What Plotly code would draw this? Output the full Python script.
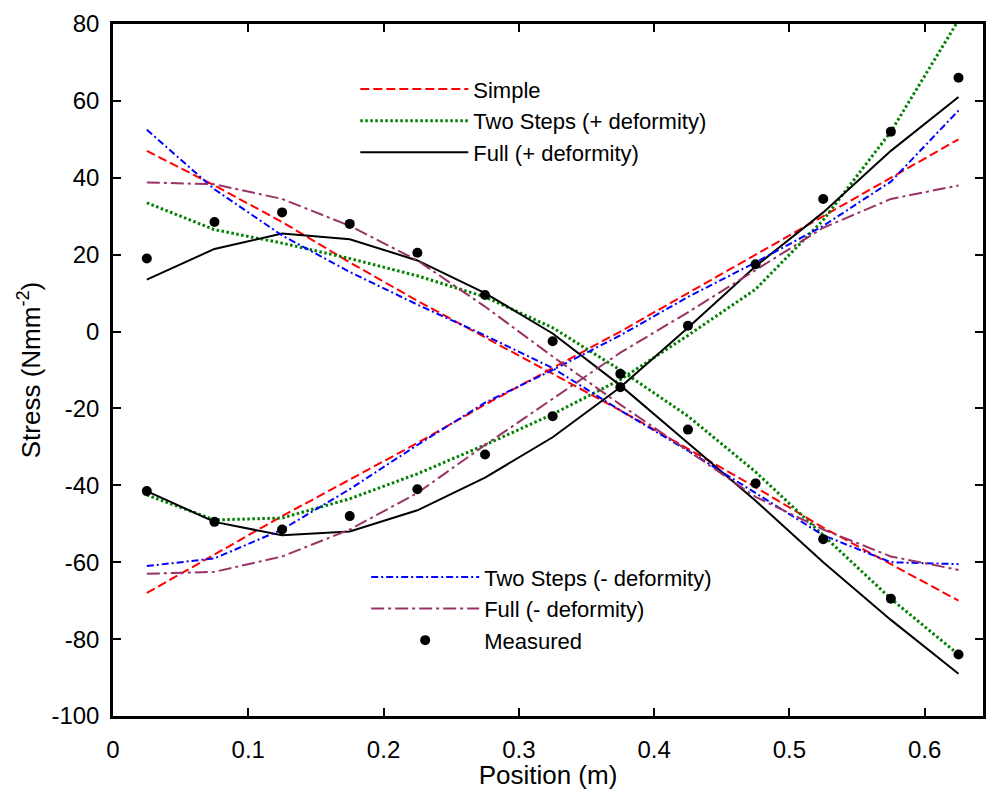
import plotly.graph_objects as go

# ---------------- data ----------------
x_pos = [0.025, 0.075, 0.125, 0.175, 0.225, 0.275, 0.325, 0.375, 0.425, 0.475, 0.525, 0.575, 0.625]

simple_upper = [47, 38, 28.5, 18, 8, -1.5, -11, -20.5, -30.5, -40.5, -51, -60.5, -70]
simple_lower = [-68, -58, -48, -38.5, -29, -19, -9.5, 0, 10, 20, 30, 40, 50]

two_plus_upper = [33.5, 26.5, 23, 19, 14.5, 9, 1, -10, -22, -36.5, -53, -69.5, -84]
two_plus_lower = [-42.5, -49, -48.5, -43.5, -37, -29.5, -21.5, -12.5, -1, 11, 29, 52, 81]

full_plus_upper = [13.5, 21.5, 25.5, 24, 18.5, 10, -0.5, -14, -29, -44, -60, -75, -89]
full_plus_lower = [-41.5, -49.5, -53, -52, -46.5, -38, -27.5, -14.5, 1, 17, 31, 47, 61]

two_minus_upper = [52.5, 37, 25, 15.5, 7, -1, -9.5, -20.5, -31, -42, -53, -60, -60.5]
two_minus_lower = [-61, -59, -51.5, -41, -29.5, -18.5, -10, -1, 9, 18, 27.5, 39, 57.5]

full_minus_upper = [38.8, 38.3, 34.5, 27.5, 18.5, 6.5, -6.5, -19, -31, -43, -51.5, -58.5, -62]
full_minus_lower = [-63, -62.5, -58.5, -51.5, -42, -29.5, -17.5, -5.5, 5, 16, 27, 34.5, 38]

meas_upper = [19, 28.5, 31, 28, 20.5, 9.5, -2.5, -11, -25.5, -39.5, -54, -69.5, -84]
meas_lower = [-41.5, -49.5, -51.5, -48, -41, -32, -22, -14.5, 1.5, 17.5, 34.5, 52, 66]

x_ticks = [0, 0.1, 0.2, 0.3, 0.4, 0.5, 0.6]
x_tick_labels = ["0", "0.1", "0.2", "0.3", "0.4", "0.5", "0.6"]
y_ticks = [-100, -80, -60, -40, -20, 0, 20, 40, 60, 80]
y_tick_labels = ["-100", "-80", "-60", "-40", "-20", "0", "20", "40", "60", "80"]

FONT = "Liberation Sans, Arial, sans-serif"


def joined(a, b):
    xs = list(x_pos) + [None] + list(x_pos)
    ys = list(a) + [None] + list(b)
    return xs, ys


fig = go.Figure()

series = [
    ("Simple", simple_upper, simple_lower, "#FF0000", "9px,4px", 2, "legend"),
    ("Two Steps (+ deformity)", two_plus_upper, two_plus_lower, "#008000", "2.5px,2.5px", 3, "legend"),
    ("Full (+ deformity)", full_plus_upper, full_plus_lower, "#000000", "solid", 2, "legend"),
    ("Two Steps (- deformity)", two_minus_upper, two_minus_lower, "#0000FF", "7px,3px,2px,3px", 2, "legend2"),
    ("Full (- deformity)", full_minus_upper, full_minus_lower, "#993366", "13px,4px,3px,4px", 2, "legend2"),
]

for name, up, lo, col, dash, w, leg in series:
    xs, ys = joined(up, lo)
    fig.add_trace(go.Scatter(
        x=xs, y=ys, mode="lines", name=name, legend=leg,
        line=dict(color=col, dash=dash, width=w), connectgaps=False,
    ))

xs, ys = joined(meas_upper, meas_lower)
fig.add_trace(go.Scatter(
    x=xs, y=ys, mode="markers", name="Measured", legend="legend2",
    marker=dict(color="#000000", size=10, symbol="circle"),
))

axis_common = dict(
    showline=True, linecolor="black", linewidth=2.5, mirror="ticks",
    ticks="inside", ticklen=8, tickwidth=1.5, tickcolor="black",
    showgrid=False, zeroline=False,
    tickfont=dict(family=FONT, size=24, color="black"),
)

fig.update_layout(
    width=988, height=790,
    margin=dict(l=113, r=2, t=24, b=74),
    paper_bgcolor="white", plot_bgcolor="white",
    font=dict(family=FONT, color="black"),
    xaxis=dict(
        range=[0, 0.6431], tickvals=x_ticks, ticktext=x_tick_labels,
        title=dict(text="Position (m)", font=dict(family=FONT, size=26), standoff=4),
        ticklabelstandoff=10,
        **axis_common,
    ),
    yaxis=dict(
        range=[-100, 80], tickvals=y_ticks, ticktext=y_tick_labels,
        title=dict(text="Stress (Nmm<sup>-2</sup>)", font=dict(family=FONT, size=26), standoff=4),
        ticklabelstandoff=6,
        **axis_common,
    ),
    legend=dict(
        x=0.2785, y=0.936, xanchor="left", yanchor="top",
        bgcolor="rgba(0,0,0,0)", font=dict(family=FONT, size=22),
        itemwidth=108, tracegroupgap=0,
    ),
    legend2=dict(
        x=0.291, y=0.231, xanchor="left", yanchor="top",
        bgcolor="rgba(0,0,0,0)", font=dict(family=FONT, size=22),
        itemwidth=108, tracegroupgap=0,
    ),
    showlegend=True,
)

fig.write_html("out.html")
